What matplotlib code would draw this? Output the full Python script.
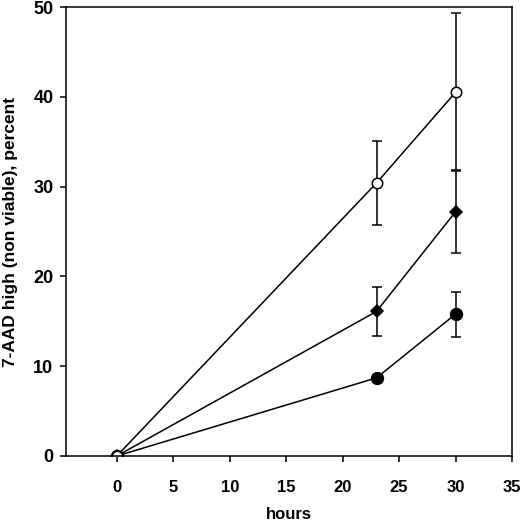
import matplotlib
matplotlib.use("Agg")
import matplotlib.pyplot as plt

plt.rcParams["font.family"] = ["Liberation Sans", "DejaVu Sans"]

hours = [0, 23, 30]

# open circles
open_vals = [0, 30.4, 40.5]
open_err = [0, 4.7, 8.8]

# filled diamonds
diamond_vals = [0, 16.1, 27.2]
diamond_err = [0, 2.7, 4.6]

# filled circles
filled_vals = [0, 8.7, 15.8]
filled_err = [0, 0.3, 2.5]

x_ticks = [0, 5, 10, 15, 20, 25, 30, 35]
y_ticks = [0, 10, 20, 30, 40, 50]

fig = plt.figure(figsize=(5.2, 5.21), dpi=100)
ax = fig.add_axes([66 / 520, 65 / 521, (512 - 66) / 520, (456 - 7) / 521])

common = dict(color="black", linewidth=1.1, elinewidth=1.1, capsize=3.6,
              capthick=1.1, markeredgecolor="black", markeredgewidth=1.1)

ax.errorbar(hours, filled_vals, yerr=filled_err, fmt="-o", markersize=8.5,
            markerfacecolor="black", **common)
ax.errorbar(hours, diamond_vals, yerr=diamond_err, fmt="-D", markersize=6.5,
            markerfacecolor="black", **common)
ax.errorbar(hours, open_vals, yerr=open_err, fmt="-o", markersize=7.5,
            markerfacecolor="white", **common)

ax.set_xlim(-4.5, 35)
ax.set_ylim(0, 50)
ax.set_xticks(x_ticks)
ax.set_yticks(y_ticks)
ax.tick_params(direction="out", length=4, width=1.1, labelsize=12)
ax.tick_params(axis="x", pad=13)
ax.tick_params(axis="y", pad=5, labelsize=13)
for lab in ax.get_xticklabels() + ax.get_yticklabels():
    lab.set_fontweight("bold")

for spine in ax.spines.values():
    spine.set_linewidth(1.1)

ax.set_xlabel("hours", fontsize=12, fontweight="bold", labelpad=9)
ax.set_ylabel("7-AAD high (non viable), percent", fontsize=12.5,
              fontweight="bold", labelpad=11)

fig.savefig("out.png", dpi=100)
